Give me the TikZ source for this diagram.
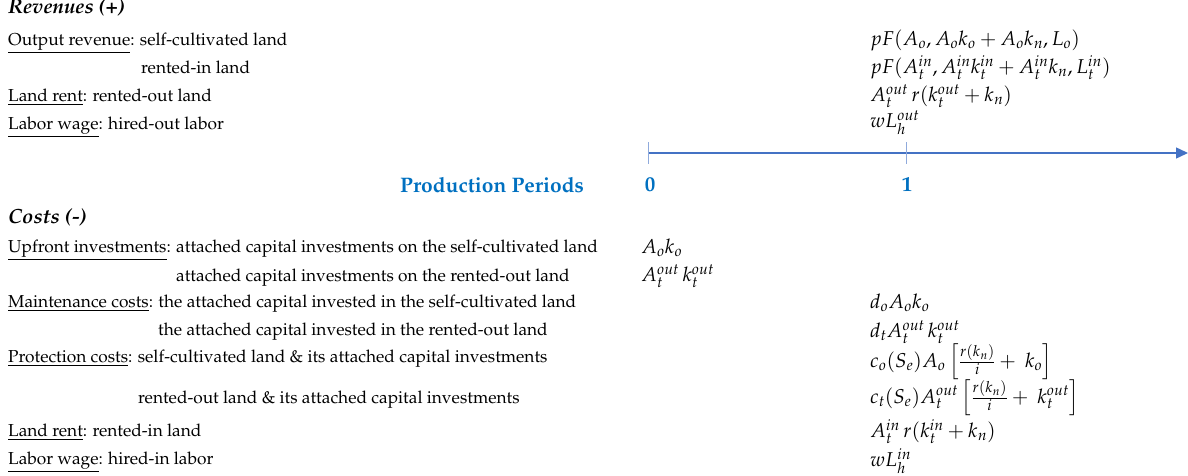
\documentclass[tikz,border=0pt]{standalone}
\usepackage[T1]{fontenc}
\usepackage{mathpazo}
\usepackage{amsmath}
\usetikzlibrary{arrows.meta}

\definecolor{axisblue}{RGB}{68,114,196}
\definecolor{tickblue}{RGB}{143,170,220}
\definecolor{periodblue}{RGB}{0,112,192}

\begin{document}
\begin{tikzpicture}[x=1pt,y=-1pt,
  txt/.style={anchor=base west,inner sep=0pt,font=\fontsize{17.3}{20}\selectfont},
  eq/.style={txt,font=\fontsize{20}{24}\selectfont},
  hdr/.style={txt,font=\fontsize{20.5}{24}\selectfont\bfseries\itshape},
  period/.style={inner sep=0pt,text=periodblue,font=\fontsize{21}{24}\selectfont\bfseries},
  axis/.style={axisblue,line width=1.4pt,-{Triangle[length=12pt,width=11pt]}},
  tick/.style={tickblue,line width=1pt}]
\useasboundingbox (0,0) rectangle (1188,476);

% revenues
\node[hdr] (rev) at (8,14) {Revenues (+)};
\node[txt] (outSelf) at (8,45.5) {\underline{Output revenue}: self-cultivated land};
\node[txt] (outIn) at (141,73.5) {rented-in land};
\node[txt] (rentOut) at (8,101.5) {\underline{Land rent}: rented-out land};
\node[txt] (wageOut) at (8,129.5) {\underline{Labor wage}: hired-out labor};

\node[eq] (fOutSelf) at (870,45.5) {$pF(A_o, A_ok_o + A_ok_n, L_o)$};
\node[eq] (fOutIn) at (870,73.5) {$pF(A_t^{in}, A_t^{in}k_t^{in} + A_t^{in}k_n, L_t^{in})$};
\node[eq] (fRentOut) at (870,101.5) {$A_t^{out}\,r(k_t^{out} + k_n)$};
\node[eq] (fWageOut) at (870,127.5) {$wL_h^{out}$};

% time line
\coordinate (p0) at (648,153);
\coordinate (p1) at (906,153);
\coordinate (pend) at (1188,153);
\draw[axis] (p0) -- (pend);
\draw[tick] ([yshift=11pt]p0) -- ([yshift=-11pt]p0);
\draw[tick] ([yshift=11pt]p1) -- ([yshift=-11pt]p1);
\node[period,anchor=west] (periods) at (400,185) {Production Periods};
\node[period] (lab0) at (650,185) {0};
\node[period] (lab1) at (907,185) {1};

% costs
\node[hdr] (cost) at (8,223) {Costs (-)};
\node[txt] (upSelf) at (8,252.5) {\underline{Upfront investments}: attached capital investments on the self-cultivated land};
\node[txt] (upOut) at (176,281.5) {attached capital investments on the rented-out land};
\node[txt] (mainSelf) at (8,307.5) {\underline{Maintenance costs}: the attached capital invested in the self-cultivated land};
\node[txt] (mainOut) at (158,335.5) {the attached capital invested in the rented-out land};
\node[txt] (protSelf) at (8,362.5) {\underline{Protection costs}: self-cultivated land \& its attached capital investments};
\node[txt] (protOut) at (138,403.5) {rented-out land \& its attached capital investments};
\node[txt] (rentIn) at (8,436.5) {\underline{Land rent}: rented-in land};
\node[txt] (wageIn) at (8,464.5) {\underline{Labor wage}: hired-in labor};

\node[eq] (fUpSelf) at (641,253.5) {$A_ok_o$};
\node[eq] (fUpOut) at (641,281.5) {$A_t^{out}\,k_t^{out}$};
\node[eq] (fMainSelf) at (870,308.5) {$d_oA_ok_o$};
\node[eq] (fMainOut) at (870,337.5) {$d_tA_t^{out}\,k_t^{out}$};
\node[eq] (fProtSelf) at (870,367) {$c_o(S_e)A_o\left[\frac{r(k_n)}{i} +\ k_o\right]$};
\node[eq] (fProtOut) at (870,403) {$c_t(S_e)A_t^{out}\left[\frac{r(k_n)}{i} +\ k_t^{out}\right]$};
\node[eq] (fRentIn) at (870,437.5) {$A_t^{in}\,r(k_t^{in} + k_n)$};
\node[eq] (fWageIn) at (870,466.5) {$wL_h^{in}$};
\end{tikzpicture}
\end{document}
